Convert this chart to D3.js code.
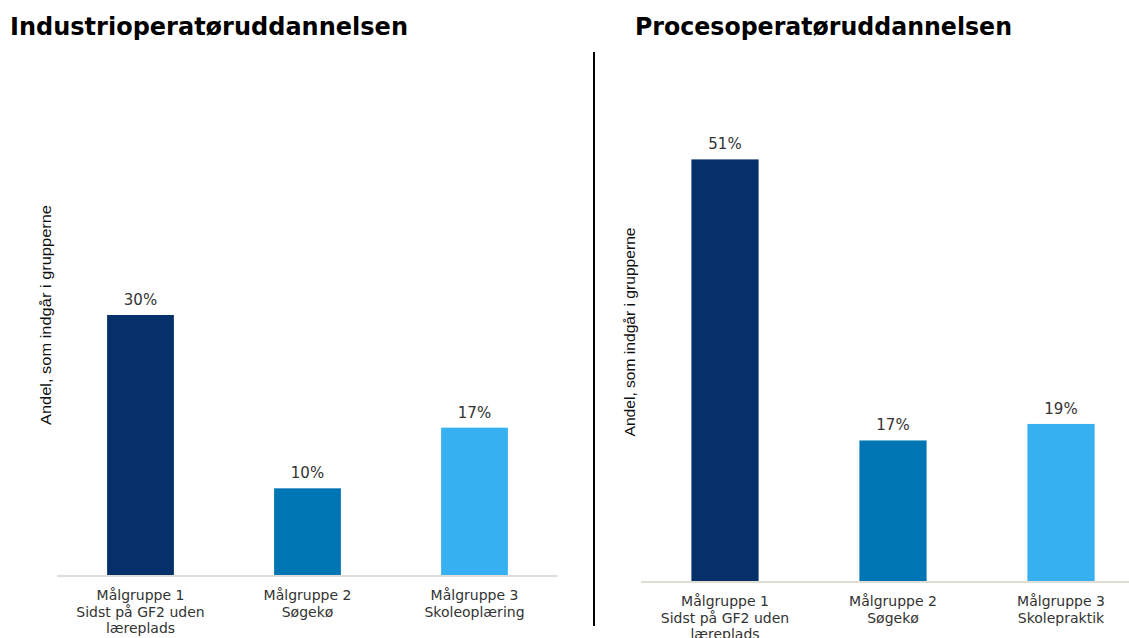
<!DOCTYPE html>
<html><head><meta charset="utf-8">
<script src="https://cdn.jsdelivr.net/npm/d3@7"></script>
<style>body{margin:0;background:#fff}svg{display:block}</style>
</head><body>
<svg id="c" width="1129" height="638"></svg>
<script>
const titles = ["Industrioperatøruddannelsen", "Procesoperatøruddannelsen"];
const yAxisLabel = "Andel, som indgår i grupperne";
const categoriesLeft = [["Målgruppe 1","Sidst på GF2 uden","læreplads"],["Målgruppe 2","Søgekø"],["Målgruppe 3","Skoleoplæring"]];
const categoriesRight = [["Målgruppe 1","Sidst på GF2 uden","læreplads"],["Målgruppe 2","Søgekø"],["Målgruppe 3","Skolepraktik"]];
const valuesLeft = [30, 10, 17];
const valuesRight = [51, 17, 19];
const barColors = ["#06306a", "#0075b3", "#36b0f1"];

const svg = d3.select("#c");

function panel(cfg){
  const g = svg.append("g");
  const keys = cfg.cats.map((c,i)=>i);
  const x = d3.scaleBand().domain(keys).range(cfg.xr).paddingInner(0.6).paddingOuter(0.3);
  const y = d3.scaleLinear().domain([0,60]).range(cfg.yr);
  // title
  g.append("text").attr("x", cfg.tx).attr("y", 35)
    .attr("font-family","DejaVu Sans Condensed, DejaVu Sans").attr("font-stretch","condensed")
    .attr("font-weight","bold").attr("font-size",24.5)
    .attr("fill","#000").attr("textLength", cfg.tw).attr("lengthAdjust","spacingAndGlyphs")
    .text(cfg.title);
  // axis label
  g.append("text").attr("transform",`translate(${cfg.ax},${cfg.ay}) rotate(-90)`)
    .attr("text-anchor","middle").attr("font-family","Liberation Sans").attr("font-size",14)
    .attr("fill","#111").attr("textLength", cfg.al).attr("lengthAdjust","spacingAndGlyphs")
    .text(yAxisLabel);
  // bars
  g.selectAll("rect.bar").data(cfg.vals).join("rect").attr("class","bar")
    .attr("x",(d,i)=>x(i)).attr("width",x.bandwidth())
    .attr("y",d=>y(d)).attr("height",d=>y(0)-y(d))
    .attr("fill",(d,i)=>barColors[i]);
  // value labels
  g.selectAll("text.val").data(cfg.vals).join("text").attr("class","val")
    .attr("x",(d,i)=>x(i)+x.bandwidth()/2).attr("y",d=>y(d)-10)
    .attr("text-anchor","middle").attr("font-family","DejaVu Sans").attr("font-size",15)
    .attr("fill","#333").text(d=>d+"%");
  // x axis
  const axis = d3.axisBottom(x).tickSize(0).tickFormat("");
  const ag = g.append("g").attr("transform",`translate(0,${y(0)+1})`).call(axis);
  ag.select(".domain").attr("stroke","#e0ddd6").attr("stroke-width",2)
    .attr("d",`M${cfg.lx0},0H${cfg.lx1}`);
  // category labels
  cfg.cats.forEach((lines,i)=>{
    const tx = g.append("text").attr("text-anchor","middle").attr("font-family","DejaVu Sans")
      .attr("font-size",14).attr("fill","#333");
    lines.forEach((ln,j)=>{
      tx.append("tspan").attr("x",x(i)+x.bandwidth()/2).attr("y",y(0)+25+j*16.5).text(ln);
    });
  });
}

panel({title:titles[0], tx:10, tw:398, cats:categoriesLeft, vals:valuesLeft,
  xr:[57,558], yr:[575,55], ax:51, ay:315, al:220, lx0:57, lx1:557});
panel({title:titles[1], tx:635, tw:377, cats:categoriesRight, vals:valuesRight,
  xr:[641,1145], yr:[581,85], ax:635, ay:332, al:209, lx0:641, lx1:1129});

svg.append("line").attr("x1",594).attr("x2",594).attr("y1",52).attr("y2",626)
  .attr("stroke","#000").attr("stroke-width",2);
</script>
</body></html>
